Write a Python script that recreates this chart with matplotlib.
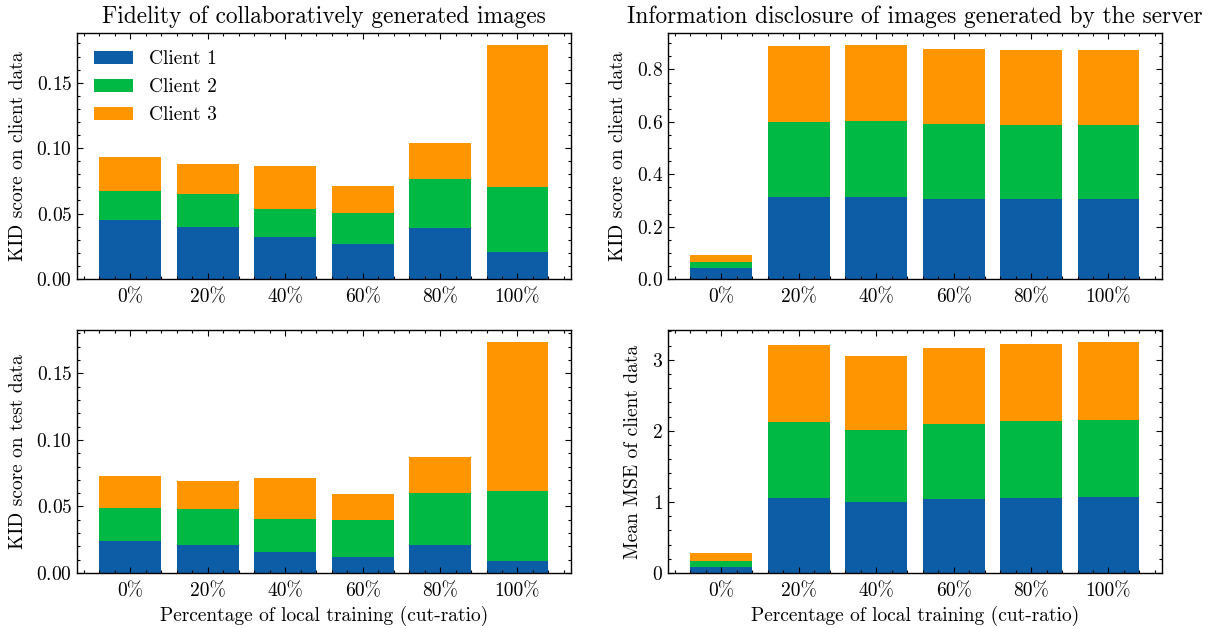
import matplotlib
matplotlib.use("Agg")
import matplotlib.pyplot as plt
from matplotlib.ticker import AutoMinorLocator
import numpy as np

# values per client (stack segments)
cut_labels = ["0%", "20%", "40%", "60%", "80%", "100%"]
clients = ["Client 1", "Client 2", "Client 3"]
colors = ["#0C5DA5", "#00B945", "#FF9500"]

kid_client_c1 = [0.0451, 0.0397, 0.0321, 0.0267, 0.0390, 0.0205]
kid_client_c2 = [0.0223, 0.0254, 0.0215, 0.0238, 0.0377, 0.0500]
kid_client_c3 = [0.0262, 0.0231, 0.0331, 0.0208, 0.0269, 0.1085]

kid_test_c1 = [0.0239, 0.0209, 0.0157, 0.0119, 0.0209, 0.0090]
kid_test_c2 = [0.0246, 0.0269, 0.0246, 0.0277, 0.0395, 0.0529]
kid_test_c3 = [0.0246, 0.0216, 0.0313, 0.0194, 0.0269, 0.1120]

server_kid_c1 = [0.0421, 0.3126, 0.3126, 0.3049, 0.3049, 0.3049]
server_kid_c2 = [0.0230, 0.2871, 0.2922, 0.2871, 0.2833, 0.2833]
server_kid_c3 = [0.0255, 0.2909, 0.2896, 0.2871, 0.2871, 0.2871]

server_mse_c1 = [0.084, 1.048, 0.992, 1.034, 1.048, 1.062]
server_mse_c2 = [0.084, 1.076, 1.020, 1.062, 1.090, 1.090]
server_mse_c3 = [0.111, 1.090, 1.034, 1.062, 1.090, 1.104]

plt.rcParams["font.family"] = "serif"
plt.rcParams["font.serif"] = ["cmr10", "DejaVu Serif"]
plt.rcParams["mathtext.fontset"] = "cm"
plt.rcParams["axes.formatter.use_mathtext"] = True
plt.rcParams["font.size"] = 14
plt.rcParams["axes.linewidth"] = 1.0
plt.rcParams["xtick.direction"] = "in"
plt.rcParams["ytick.direction"] = "in"
plt.rcParams["xtick.top"] = True
plt.rcParams["ytick.right"] = True
plt.rcParams["xtick.major.size"] = 4.5
plt.rcParams["ytick.major.size"] = 4.5
plt.rcParams["xtick.minor.size"] = 2.2
plt.rcParams["ytick.minor.size"] = 2.2
plt.rcParams["xtick.major.width"] = 0.8
plt.rcParams["ytick.major.width"] = 0.8
plt.rcParams["xtick.minor.width"] = 0.8
plt.rcParams["ytick.minor.width"] = 0.8


def stacked(ax, c1, c2, c3, ylabel, title=None, xlabel=None, legend=False):
    x = np.arange(len(cut_labels))
    segs = [c1, c2, c3]
    bottom = np.zeros(len(x))
    for name, seg, col in zip(clients, segs, colors):
        ax.bar(x, seg, 0.8, bottom=bottom, color=col, label=name)
        bottom = bottom + np.array(seg)
    ax.set_xticks(x)
    ax.set_xticklabels(cut_labels)
    ax.xaxis.set_minor_locator(AutoMinorLocator(5))
    ax.yaxis.set_minor_locator(AutoMinorLocator())
    ax.tick_params(axis="x", pad=7)
    ax.set_ylabel(ylabel, labelpad=7)
    if title:
        ax.set_title(title, fontsize=16.8, pad=7)
    if xlabel:
        ax.set_xlabel(xlabel, labelpad=4)
    if legend:
        ax.legend(loc="upper left", frameon=False, handlelength=2.0,
                  handleheight=0.69, labelspacing=0.52, handletextpad=0.82,
                  borderaxespad=0.55, borderpad=0.33)


fig = plt.figure(figsize=(12.16, 6.28), dpi=100)
ax1 = fig.add_axes([0.0633, 0.5557, 0.4062, 0.3917])
ax2 = fig.add_axes([0.5493, 0.5557, 0.4062, 0.3917])
ax3 = fig.add_axes([0.0633, 0.0876, 0.4062, 0.3870])
ax4 = fig.add_axes([0.5493, 0.0876, 0.4062, 0.3870])

stacked(ax1, kid_client_c1, kid_client_c2, kid_client_c3, "KID score on client data",
        title="Fidelity of collaboratively generated images", legend=True)
stacked(ax2, server_kid_c1, server_kid_c2, server_kid_c3, "KID score on client data",
        title="Information disclosure of images generated by the server")
stacked(ax3, kid_test_c1, kid_test_c2, kid_test_c3, "KID score on test data",
        xlabel="Percentage of local training (cut-ratio)")
stacked(ax4, server_mse_c1, server_mse_c2, server_mse_c3, "Mean MSE of client data",
        xlabel="Percentage of local training (cut-ratio)")

fig.savefig("out.png", dpi=100)
